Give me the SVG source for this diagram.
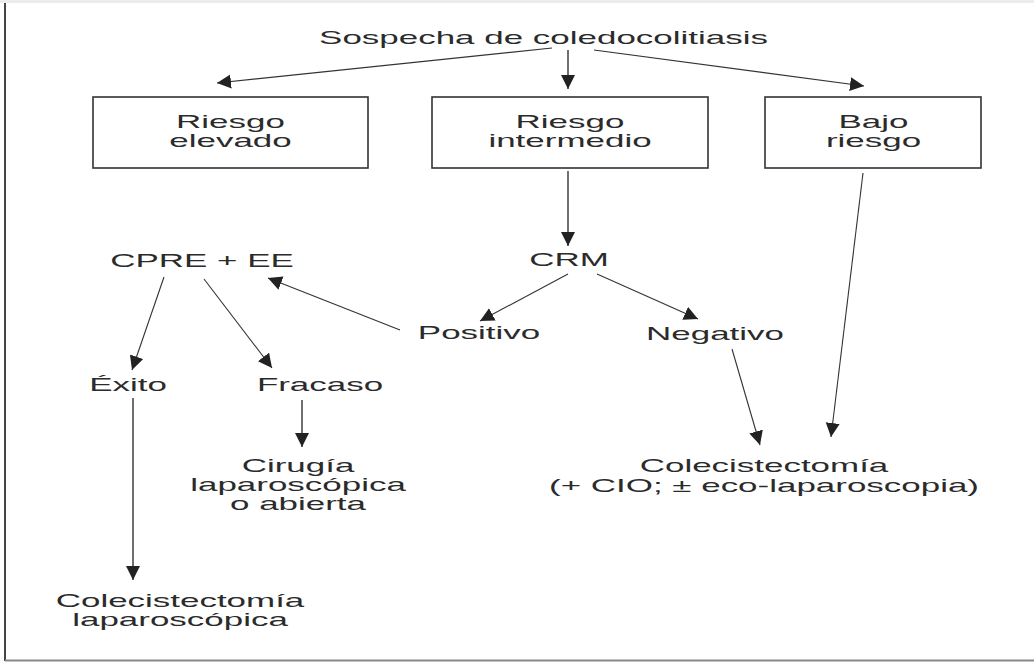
<svg xmlns="http://www.w3.org/2000/svg" width="1034" height="662" viewBox="0 0 1034 662">
<style>
  text { font-family: "Liberation Sans", Arial, sans-serif; font-size: 19px; fill: #2b2b2b; text-anchor: middle; }
  .box { fill: #ffffff; stroke: #333333; stroke-width: 1.6; }
  .edge { fill: none; stroke: #333333; stroke-width: 1.4; marker-end: url(#arr); }
  .thin { stroke-width: 1.1; }
</style>
<defs>
  <marker id="arr" markerUnits="userSpaceOnUse" markerWidth="15" markerHeight="15" refX="14" refY="7" orient="auto">
    <path d="M0,0 L14,7 L0,14 z" fill="#222222"/>
  </marker>
</defs>
<rect x="0" y="0" width="1034" height="662" fill="#ffffff"/>
<rect x="0" y="0" width="1034" height="3" fill="#ececec"/>
<line x1="5" y1="3" x2="5" y2="661" stroke="#444444" stroke-width="2"/>
<line x1="5" y1="660.5" x2="1034" y2="660.5" stroke="#888888" stroke-width="2"/>

<g id="connectors">
  <line class="edge thin" x1="552" y1="48" x2="217" y2="83"/>
  <line class="edge" x1="568" y1="50" x2="568" y2="89"/>
  <line class="edge thin" x1="594" y1="50" x2="864" y2="86"/>
  <line class="edge" x1="568" y1="171" x2="568" y2="246"/>
  <line class="edge thin" x1="863" y1="173" x2="831" y2="437"/>
  <line class="edge thin" x1="568" y1="274" x2="480" y2="321"/>
  <line class="edge thin" x1="597" y1="274" x2="698" y2="319"/>
  <line class="edge thin" x1="400" y1="330" x2="268" y2="278"/>
  <line class="edge thin" x1="164" y1="277" x2="132" y2="370"/>
  <line class="edge thin" x1="204" y1="279" x2="272" y2="368"/>
  <line class="edge" x1="302" y1="400" x2="302" y2="447"/>
  <line class="edge" x1="133" y1="398" x2="133" y2="580"/>
  <line class="edge thin" x1="732" y1="349" x2="760" y2="445"/>
</g>

<g id="n-sospecha">
  <text transform="translate(543.5,44) scale(1.84,1)">Sospecha de coledocolitiasis</text>
</g>
<g id="n-riesgo-elevado">
  <rect class="box" x="93" y="97" width="275" height="71"/>
  <text transform="translate(230.5,128) scale(1.84,1)">Riesgo</text>
  <text transform="translate(230.5,147) scale(1.84,1)">elevado</text>
</g>
<g id="n-riesgo-intermedio">
  <rect class="box" x="432" y="97" width="276" height="71"/>
  <text transform="translate(570,128) scale(1.84,1)">Riesgo</text>
  <text transform="translate(570,147) scale(1.84,1)">intermedio</text>
</g>
<g id="n-bajo-riesgo">
  <rect class="box" x="765" y="97" width="216" height="71"/>
  <text transform="translate(873.5,128) scale(1.84,1)">Bajo</text>
  <text transform="translate(873.5,147) scale(1.84,1)">riesgo</text>
</g>
<g id="n-cpre">
  <text transform="translate(202,267) scale(1.84,1)">CPRE + EE</text>
</g>
<g id="n-crm">
  <text transform="translate(569,266) scale(1.84,1)">CRM</text>
</g>
<g id="n-positivo">
  <text transform="translate(479,339) scale(1.84,1)">Positivo</text>
</g>
<g id="n-negativo">
  <text transform="translate(715,340) scale(1.84,1)">Negativo</text>
</g>
<g id="n-exito">
  <text transform="translate(128,391) scale(1.84,1)">Éxito</text>
</g>
<g id="n-fracaso">
  <text transform="translate(320,391) scale(1.84,1)">Fracaso</text>
</g>
<g id="n-cirugia">
  <text transform="translate(298,472) scale(1.84,1)">Cirugía</text>
  <text transform="translate(298,491) scale(1.84,1)">laparoscópica</text>
  <text transform="translate(298,510) scale(1.84,1)">o abierta</text>
</g>
<g id="n-colecistectomia-lap">
  <text transform="translate(180,607) scale(1.84,1)">Colecistectomía</text>
  <text transform="translate(180,626) scale(1.84,1)">laparoscópica</text>
</g>
<g id="n-colecistectomia-cio">
  <text transform="translate(764,472) scale(1.84,1)">Colecistectomía</text>
  <text transform="translate(764,492) scale(1.84,1)">(+ CIO; ± eco-laparoscopia)</text>
</g>
</svg>
